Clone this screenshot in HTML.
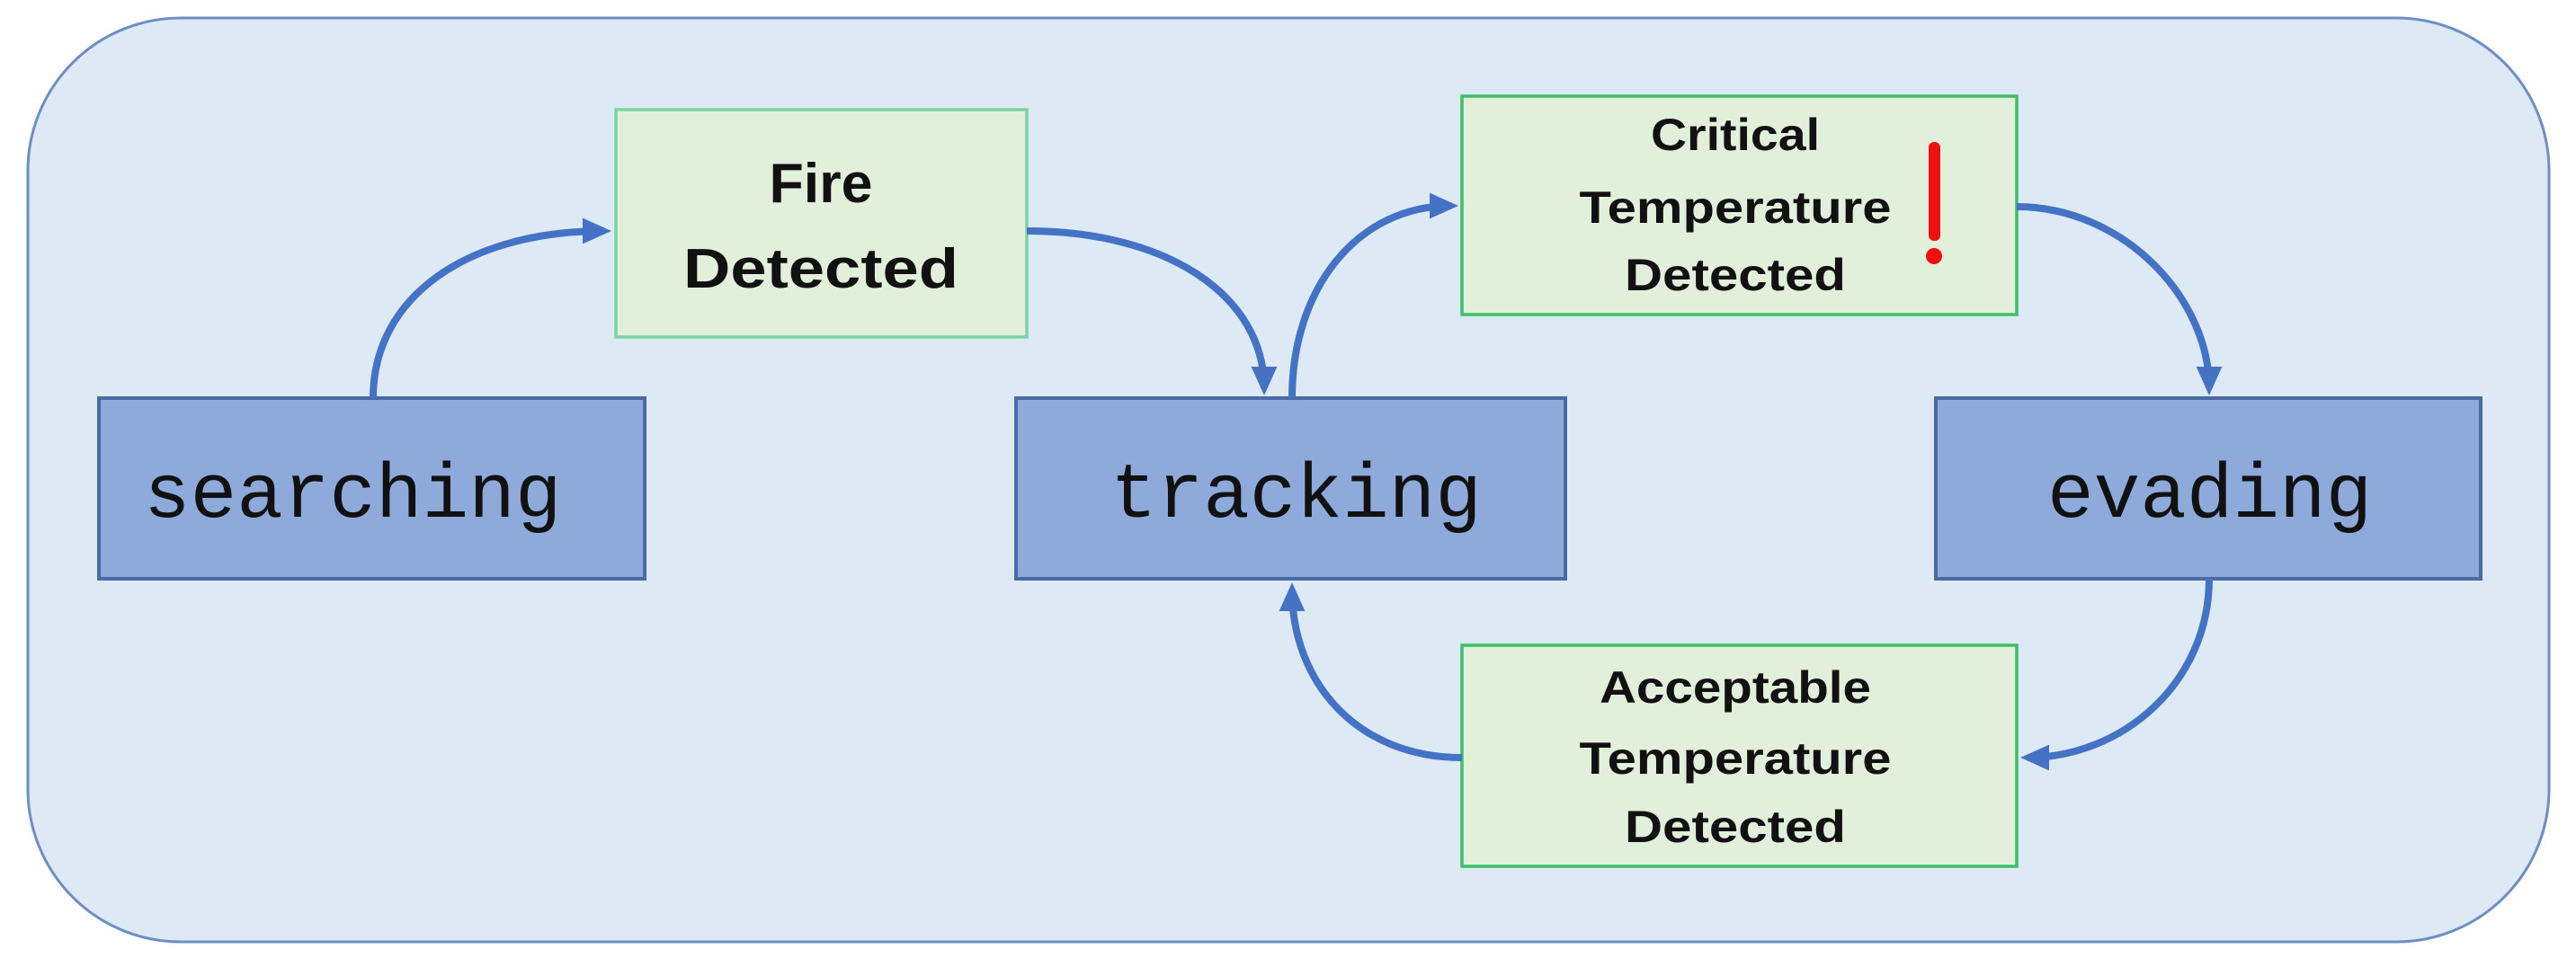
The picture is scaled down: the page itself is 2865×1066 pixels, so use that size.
<!DOCTYPE html>
<html><head><meta charset="utf-8"><style>
html,body{margin:0;padding:0;background:#fff;}
svg{display:block}
</style></head><body>
<svg width="2865" height="1066" viewBox="0 0 2865 1066" xmlns="http://www.w3.org/2000/svg">
<defs>
<marker id="a" markerWidth="4" markerHeight="4" refX="3" refY="2" orient="auto" markerUnits="strokeWidth">
<path d="M0,0.2 L4,2 L0,3.8 Z" fill="#4472c4"/>
</marker>
</defs>
<rect x="31" y="20" width="2804" height="1028" rx="170" ry="170" fill="#dde9f5" stroke="#6d8fc4" stroke-width="3"/>
<g fill="#8eaadb" stroke="#4a6aa3" stroke-width="4">
<rect x="110" y="443" width="607" height="201"/>
<rect x="1130" y="443" width="611" height="201"/>
<rect x="2153" y="443" width="606" height="201"/>
</g>
<g fill="#e2efda" stroke-width="3.5">
<rect x="685" y="122" width="457" height="253" stroke="#7ad4a0"/>
<rect x="1626" y="107" width="617" height="243" stroke="#3cbf66"/>
<rect x="1626" y="718" width="617" height="246" stroke="#3cbf66"/>
</g>
<g fill="none" stroke="#4472c4" stroke-width="8" marker-end="url(#a)">
<path d="M415,443 C415,330 520,257 672,257"/>
<path d="M1142,257 C1300,257 1406,330 1406,432"/>
<path d="M1437,443 C1437,320 1510,229 1614,229"/>
<path d="M2243,230 C2360,230 2457,330 2457,432"/>
<path d="M2457,644 C2457,760 2360,843 2255,843"/>
<path d="M1626,843 C1510,843 1437,760 1437,656"/>
</g>
<g font-family="Liberation Mono, monospace" font-size="86" fill="#111">
<text x="160" y="575">searching</text>
<text x="1235" y="575">tracking</text>
<text x="2277" y="575">evading</text>
</g>
<g font-family="Liberation Sans, sans-serif" font-weight="bold" fill="#111" text-anchor="middle">
<text x="913" y="225" font-size="62" textLength="115" lengthAdjust="spacingAndGlyphs">Fire</text>
<text x="913" y="320" font-size="62" textLength="306" lengthAdjust="spacingAndGlyphs">Detected</text>
<g font-size="50">
<text x="1930" y="167" textLength="188" lengthAdjust="spacingAndGlyphs">Critical</text>
<text x="1930" y="248" textLength="347" lengthAdjust="spacingAndGlyphs">Temperature</text>
<text x="1930" y="323" textLength="246" lengthAdjust="spacingAndGlyphs">Detected</text>
<text x="1930" y="782" textLength="302" lengthAdjust="spacingAndGlyphs">Acceptable</text>
<text x="1930" y="861" textLength="347" lengthAdjust="spacingAndGlyphs">Temperature</text>
<text x="1930" y="937" textLength="246" lengthAdjust="spacingAndGlyphs">Detected</text>
</g>
</g>
<rect x="2145" y="158" width="13" height="110" rx="6" fill="#ee1111"/>
<circle cx="2151" cy="285" r="9" fill="#ee1111"/>
</svg>
</body></html>
